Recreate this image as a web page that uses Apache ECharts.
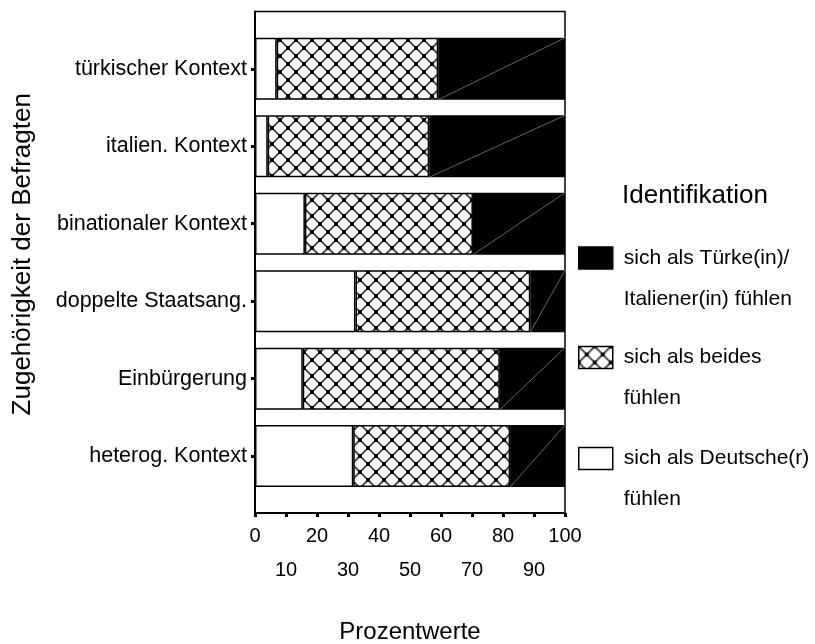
<!DOCTYPE html>
<html><head><meta charset="utf-8">
<script src="https://cdn.jsdelivr.net/npm/echarts@6/dist/echarts.min.js"></script>
<style>html,body{margin:0;padding:0;background:#fff}#c{width:815px;height:644px}</style>
</head><body><div id="c"></div>
<script>
const categories = ['türkischer Kontext','italien. Kontext','binationaler Kontext','doppelte Staatsang.','Einbürgerung','heterog. Kontext'];
const deutschValues = [7.0, 4.1, 16.1, 32.4, 15.4, 31.7];
const beidesValues = [52.1, 52.1, 54.2, 56.4, 63.6, 50.6];
const herkunftValues = [40.9, 43.8, 29.7, 11.2, 21.0, 17.7];
const xTickValues = [0,10,20,30,40,50,60,70,80,90,100];
const nameHerkunft = 'sich als Türke(in)/\nItaliener(in) fühlen';
const nameBeides = 'sich als beides\nfühlen';
const nameDeutsch = 'sich als Deutsche(r)\nfühlen';
const legendTitle = 'Identifikation';
const xName = 'Prozentwerte';
const yName = 'Zugehörigkeit der Befragten';

const FONT = '"Liberation Sans", Arial, sans-serif';

function makeCross(){
  const s = 16, c = document.createElement('canvas');
  c.width = s; c.height = s;
  const g = c.getContext('2d');
  g.fillStyle = '#fff'; g.fillRect(0,0,s,s);
  g.strokeStyle = '#333'; g.lineWidth = 1.6;
  g.beginPath(); g.moveTo(0,0); g.lineTo(s,s); g.moveTo(s,0); g.lineTo(0,s); g.stroke();
  g.fillStyle = '#000';
  [[0,0],[s,0],[0,s],[s,s],[s/2,s/2]].forEach(([x,y]) => g.fillRect(x-2,y-2,4,4));
  return c;
}
const crossPattern = { image: makeCross(), repeat: 'repeat' };

const chart = echarts.init(document.getElementById('c'), null, {renderer:'canvas'});

const legendTops = [196.5, 296, 397];
const legendNames = [nameHerkunft, nameBeides, nameDeutsch];

const option = {
  animation: false,
  backgroundColor: '#fff',
  textStyle: { fontFamily: FONT, color: '#000' },
  title: {
    text: legendTitle, left: 622, top: 183, padding: 0,
    textStyle: { fontFamily: FONT, fontSize: 26, fontWeight: 'normal', color: '#000' }
  },
  legend: legendNames.map((n, i) => ({
    data: [n], orient: 'vertical', left: 578, top: legendTops[i], padding: 0,
    itemWidth: 34, itemHeight: 22, selectedMode: false, icon: 'rect',
    formatter: name => '\n' + name,
    itemStyle: { borderColor: '#000', borderWidth: 1.5 },
    textStyle: { fontFamily: FONT, fontSize: 21, lineHeight: 41, color: '#000', padding: [0, 0, 0, 6] }
  })),
  grid: [
    { left: 255, right: 250, top: 30.1, bottom: 149.2, outerBoundsMode: 'none', containLabel: false },
    { left: 255, right: 250, top: 11.5, bottom: 131, outerBoundsMode: 'none', containLabel: false,
      show: true, borderColor: '#000', borderWidth: 1.5, backgroundColor: '#fff', z: -1 }
  ],
  xAxis: [
    { gridIndex: 0, type: 'value', min: 0, max: 100, show: false },
    { gridIndex: 1, type: 'value', min: 0, max: 100, interval: 10,
      axisLine: { show: true, lineStyle: { color: '#000', width: 2 } },
      axisTick: { show: true, length: 4, lineStyle: { color: '#000', width: 3 } },
      splitLine: { show: false },
      axisLabel: { color: '#000', fontFamily: FONT, fontSize: 20, lineHeight: 34, margin: 6,
        formatter: v => (v % 20 === 0 ? String(v) : '\n' + v) },
      name: xName, nameLocation: 'middle', nameGap: 107, nameMoveOverlap: false,
      nameTextStyle: { color: '#000', fontFamily: FONT, fontSize: 24 } }
  ],
  yAxis: [
    { gridIndex: 0, type: 'category', data: categories, inverse: true,
      axisLine: { show: false },
      axisTick: { show: true, alignWithLabel: true, length: 4, lineStyle: { color: '#000', width: 3 } },
      axisLabel: { color: '#000', fontFamily: FONT, fontSize: 21.5, margin: 8 } },
    { gridIndex: 1, type: 'value', min: 0, max: 1,
      axisLine: { show: true, lineStyle: { color: '#000', width: 2 } },
      axisTick: { show: false }, axisLabel: { show: false }, splitLine: { show: false },
      name: yName, nameLocation: 'middle', nameGap: 219, nameMoveOverlap: false,
      nameTextStyle: { color: '#000', fontFamily: FONT, fontSize: 26, padding: [0, 0, 0, 16] } }
  ],
  series: [
    { name: nameDeutsch, type: 'bar', stack: 'a', xAxisIndex: 0, yAxisIndex: 0, barWidth: 62,
      data: deutschValues, itemStyle: { color: '#fff', borderColor: '#000', borderWidth: 1.5 } },
    { name: nameBeides, type: 'bar', stack: 'a', xAxisIndex: 0, yAxisIndex: 0, barWidth: 62,
      data: beidesValues, itemStyle: { color: crossPattern, borderColor: '#000', borderWidth: 1.5 } },
    { name: nameHerkunft, type: 'bar', stack: 'a', xAxisIndex: 0, yAxisIndex: 0, barWidth: 62,
      data: herkunftValues, itemStyle: { color: '#000', borderColor: '#000', borderWidth: 1.5 } },
    { type: 'custom', xAxisIndex: 0, yAxisIndex: 0, silent: true, z: 5,
      data: categories.map((c, i) => [deutschValues[i] + beidesValues[i], deutschValues[i] + beidesValues[i] + herkunftValues[i], i]),
      renderItem: (params, api) => {
        const p0 = api.coord([api.value(0), api.value(2)]);
        const p1 = api.coord([api.value(1), api.value(2)]);
        const h = 31;
        return { type: 'line', shape: { x1: p0[0], y1: p0[1] + h, x2: p1[0], y2: p1[1] - h },
          style: { stroke: '#666', lineWidth: 1 } };
      } }
  ]
};
chart.setOption(option);
</script>
</body></html>
